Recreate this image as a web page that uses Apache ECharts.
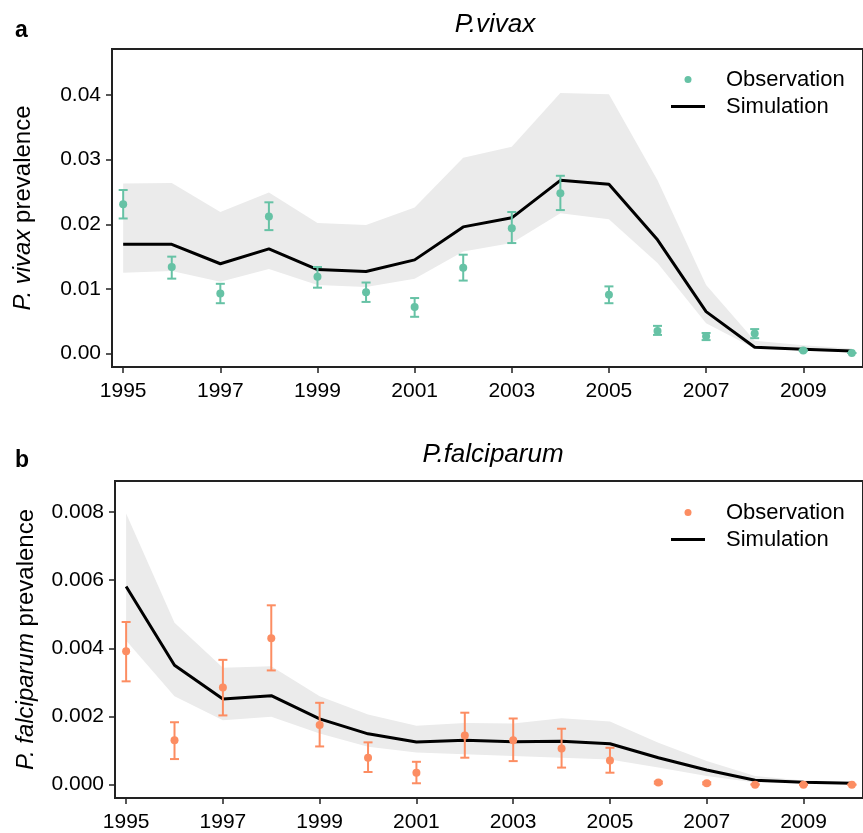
<!DOCTYPE html>
<html>
<head>
<meta charset="utf-8">
<script src="https://cdn.jsdelivr.net/npm/echarts@6/dist/echarts.min.js"></script>
<style>
  html, body { margin: 0; padding: 0; background: #fff; }
  #chart { width: 863px; height: 833px; }
</style>
</head>
<body>
<div id="chart"></div>
<script>
// years shared by both panels
let years = [1995, 1996, 1997, 1998, 1999, 2000, 2001, 2002, 2003, 2004, 2005, 2006, 2007, 2008, 2009, 2010];
let yearTicks = [1995, 1997, 1999, 2001, 2003, 2005, 2007, 2009];

// P. vivax
let vivaxSim = [0.0169, 0.0169, 0.0139, 0.0162, 0.0130, 0.0127, 0.0145, 0.0196, 0.0210, 0.0268, 0.0262, 0.0176, 0.0065, 0.0010, 0.0007, 0.0004];
let vivaxUpper = [0.0263, 0.0264, 0.0219, 0.0249, 0.0202, 0.0199, 0.0226, 0.0303, 0.0320, 0.0403, 0.0401, 0.0268, 0.0106, 0.0020, 0.0013, 0.0008];
let vivaxLower = [0.0125, 0.0128, 0.0111, 0.0131, 0.0106, 0.0103, 0.0116, 0.0158, 0.0171, 0.0217, 0.0208, 0.0140, 0.0047, 0.0008, 0.0005, 0.0002];
let vivaxObs = [0.0231, 0.0134, 0.0093, 0.0212, 0.0119, 0.0095, 0.0072, 0.0133, 0.0194, 0.0248, 0.0091, 0.0035, 0.0027, 0.0031, 0.0005, 0.0001];
let vivaxObsHi = [0.0253, 0.0150, 0.0108, 0.0234, 0.0134, 0.0110, 0.0086, 0.0153, 0.0219, 0.0275, 0.0104, 0.0043, 0.0032, 0.0038, 0.0006, 0.0001];
let vivaxObsLo = [0.0209, 0.0116, 0.0078, 0.0191, 0.0102, 0.0080, 0.0057, 0.0113, 0.0171, 0.0222, 0.0078, 0.0029, 0.0021, 0.0024, 0.0004, 0.0001];
let vivaxTicks = [0, 0.01, 0.02, 0.03, 0.04];

// P. falciparum
let falciSim = [0.00581, 0.00350, 0.00251, 0.00261, 0.00193, 0.00149, 0.00125, 0.00130, 0.00126, 0.00127, 0.00120, 0.00079, 0.00043, 0.00013, 0.00007, 0.00004];
let falciUpper = [0.00795, 0.00475, 0.00343, 0.00347, 0.00259, 0.00206, 0.00173, 0.00181, 0.00179, 0.00195, 0.00185, 0.00123, 0.00069, 0.00025, 0.00012, 0.00008];
let falciLower = [0.00423, 0.00259, 0.00189, 0.00199, 0.00150, 0.00111, 0.00094, 0.00089, 0.00084, 0.00079, 0.00074, 0.00050, 0.00025, 0.00006, 0.00003, 0.00002];
let falciObs = [0.00391, 0.00130, 0.00285, 0.00429, 0.00175, 0.00079, 0.00035, 0.00144, 0.00130, 0.00106, 0.00071, 0.00006, 0.00004, 0.00000, 0.00000, 0.00000];
let falciObsHi = [0.00477, 0.00183, 0.00366, 0.00526, 0.00240, 0.00124, 0.00067, 0.00211, 0.00194, 0.00164, 0.00108, 0.00009, 0.00007, 0.00001, 0.00000, 0.00000];
let falciObsLo = [0.00303, 0.00075, 0.00203, 0.00335, 0.00112, 0.00037, 0.00004, 0.00079, 0.00069, 0.00050, 0.00035, 0.00003, 0.00001, 0.00000, 0.00000, 0.00000];
let falciTicks = [0, 0.002, 0.004, 0.006, 0.008];

let green = '#66c2a5';
let orange = '#fc8d62';
let bandColor = '#ebebeb';
let font = 'Liberation Sans, Arial, sans-serif';

let pairs = (vals) => years.map((y, i) => [y, vals[i]]);

// whole ribbon drawn as one polygon from the first item
function bandRender(params, api) {
  if (params.dataIndexInside !== 0) return null;
  let n = params.dataInsideLength;
  let top = [], bottom = [];
  for (let i = 0; i < n; i++) {
    top.push(api.coord([api.value(0, i), api.value(2, i)]));
    bottom.push(api.coord([api.value(0, i), api.value(1, i)]));
  }
  return {
    type: 'polygon',
    shape: { points: top.concat(bottom.reverse()) },
    style: { fill: bandColor, stroke: null }
  };
}

function errorRender(color) {
  return function (params, api) {
    let x = api.value(0);
    let top = api.coord([x, api.value(1)]);
    let bot = api.coord([x, api.value(2)]);
    let half = 4.5;
    let style = { stroke: color, lineWidth: 2 };
    return {
      type: 'group',
      children: [
        { type: 'line', shape: { x1: top[0], y1: top[1], x2: bot[0], y2: bot[1] }, style: style },
        { type: 'line', shape: { x1: top[0] - half, y1: top[1], x2: top[0] + half, y2: top[1] }, style: style },
        { type: 'line', shape: { x1: bot[0] - half, y1: bot[1], x2: bot[0] + half, y2: bot[1] }, style: style }
      ]
    };
  };
}

function panelSeries(idx, sim, upper, lower, obs, hi, lo, color) {
  return [
    {
      type: 'custom', xAxisIndex: idx, yAxisIndex: idx, silent: true,
      renderItem: bandRender,
      data: years.map((y, i) => [y, lower[i], upper[i]]), z: 1
    },
    {
      name: 'Simulation', type: 'line', xAxisIndex: idx, yAxisIndex: idx, symbol: 'none',
      lineStyle: { color: '#000', width: 3 }, itemStyle: { color: '#000' },
      data: pairs(sim), z: 2
    },
    {
      type: 'custom', xAxisIndex: idx, yAxisIndex: idx,
      renderItem: errorRender(color),
      data: years.map((y, i) => [y, hi[i], lo[i]]), z: 3
    },
    {
      name: 'Observation', type: 'scatter', xAxisIndex: idx, yAxisIndex: idx,
      symbolSize: 8, itemStyle: { color: color, opacity: 1 },
      data: pairs(obs), z: 4
    }
  ];
}

function xAxis(idx) {
  return {
    type: 'value', gridIndex: idx, min: 1994.77, max: 2010.23,
    splitLine: { show: false },
    axisLine: { show: true, onZero: false, lineStyle: { color: '#222', width: 2 } },
    axisTick: { show: true, length: 6, lineStyle: { color: '#222', width: 1.5 }, customValues: yearTicks },
    axisLabel: { color: '#000', fontSize: 21, fontFamily: font, margin: 14, customValues: yearTicks, formatter: (v) => String(v) }
  };
}

function yAxis(idx, min, max, ticks, digits, name) {
  return {
    type: 'value', gridIndex: idx, min: min, max: max,
    name: name, nameLocation: 'middle', nameGap: 77,
    nameTextStyle: {
      color: '#000', fontSize: 24, fontFamily: font,
      rich: { i: { fontStyle: 'italic', fontSize: 24, fontFamily: font, color: '#000' } }
    },
    splitLine: { show: false },
    axisLine: { show: true, onZero: false, lineStyle: { color: '#222', width: 2 } },
    axisTick: { show: true, length: 6, lineStyle: { color: '#222', width: 1.5 }, customValues: ticks },
    axisLabel: { color: '#000', fontSize: 21, fontFamily: font, margin: 11, customValues: ticks, formatter: (v) => v.toFixed(digits) }
  };
}

function legend(top, color) {
  return {
    left: 666, top: top, orient: 'vertical', itemWidth: 34, itemHeight: 7, itemGap: 0,
    selectedMode: false,
    textStyle: { color: '#000', fontSize: 22, fontFamily: font, lineHeight: 27, padding: [0, 0, 0, 16] },
    data: [
      { name: 'Observation', icon: 'circle', itemStyle: { color: color } },
      { name: 'Simulation', icon: 'path://M0 0H34V3H0Z', itemStyle: { color: '#000' } }
    ]
  };
}

let chart = echarts.init(document.getElementById('chart'));
chart.setOption({
  animation: false,
  backgroundColor: '#fff',
  title: [
    { text: 'a', left: 10, top: 14, textStyle: { fontSize: 23, fontWeight: 'bold', fontFamily: font, color: '#000' } },
    { text: 'P.vivax', left: 490, top: 7, textAlign: 'center', textStyle: { fontSize: 26, fontStyle: 'italic', fontWeight: 'normal', fontFamily: font, color: '#000' } },
    { text: 'b', left: 10, top: 444, textStyle: { fontSize: 23, fontWeight: 'bold', fontFamily: font, color: '#000' } },
    { text: 'P.falciparum', left: 488, top: 437, textAlign: 'center', textStyle: { fontSize: 26, fontStyle: 'italic', fontWeight: 'normal', fontFamily: font, color: '#000' } }
  ],
  legend: [legend(61, green), legend(494, orange)],
  grid: [
    { left: 112, top: 49, width: 762, height: 318, show: true, borderColor: '#222', borderWidth: 2, backgroundColor: 'transparent' },
    { left: 115, top: 481, width: 759, height: 318, show: true, borderColor: '#222', borderWidth: 2, backgroundColor: 'transparent' }
  ],
  xAxis: [xAxis(0), xAxis(1)],
  yAxis: [
    yAxis(0, -0.00206, 0.0471, vivaxTicks, 2, '{i|P. vivax} prevalence'),
    yAxis(1, -0.000392, 0.008906, falciTicks, 3, '{i|P. falciparum} prevalence')
  ],
  series: panelSeries(0, vivaxSim, vivaxUpper, vivaxLower, vivaxObs, vivaxObsHi, vivaxObsLo, green)
    .concat(panelSeries(1, falciSim, falciUpper, falciLower, falciObs, falciObsHi, falciObsLo, orange))
});
</script>
</body>
</html>
